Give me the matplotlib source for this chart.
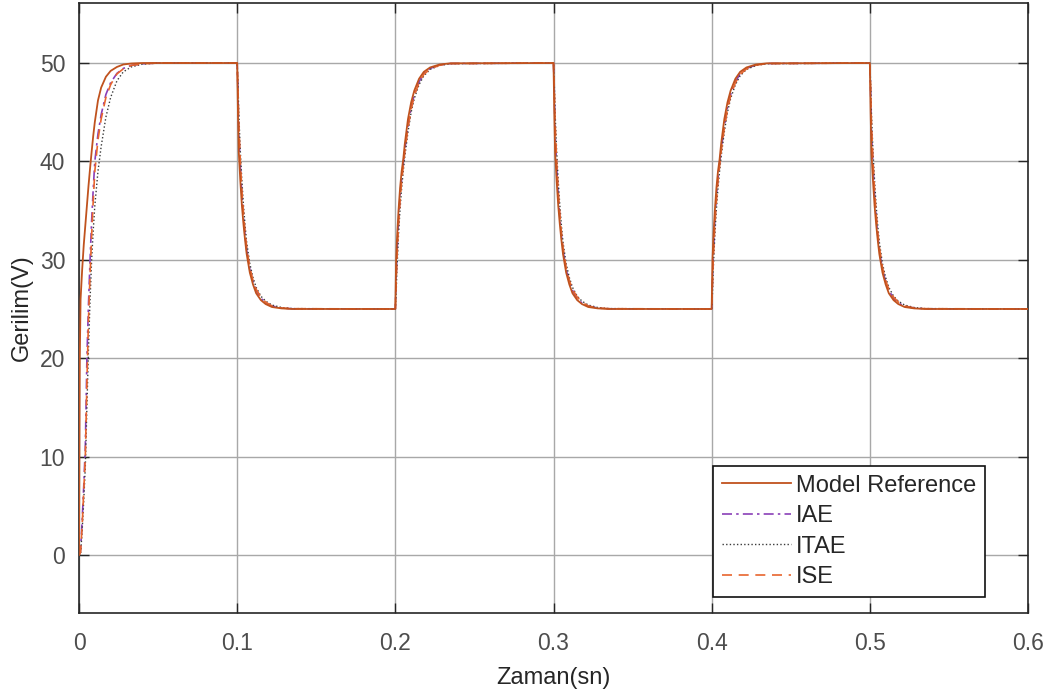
import numpy as np
import matplotlib
matplotlib.use("Agg")
import matplotlib.pyplot as plt

plt.rcParams['font.family'] = ['Liberation Sans', 'DejaVu Sans']

# Square-wave reference between 25 V and 50 V, period 0.2 s, over 0.6 s
period_half = 0.1
t_end = 0.6

# --- first start-up (0 V -> 50 V), time relative to t = 0 ---
start_t = [0, 0.0005, 0.001, 0.002, 0.003, 0.004, 0.005, 0.006, 0.007, 0.008,
           0.009, 0.010, 0.012, 0.014, 0.017, 0.020, 0.024, 0.028, 0.033,
           0.040, 0.050, 0.1]
start_ref = [0, 20, 26, 29, 31.5, 33.5, 35.5, 37.5, 39.3, 41, 42.6, 44, 46.2,
             47.5, 48.6, 49.2, 49.6, 49.85, 49.95, 50, 50, 50]
start_iae = [0, 0.2, 0.5, 3.5, 7, 11, 20, 25.5, 30, 34, 37.2, 40, 42.8, 44.75,
             46.8, 48.0, 48.95, 49.45, 49.75, 49.92, 50, 50]
start_itae = [0, 0, 0, 2.5, 5.5, 9, 15, 21, 26, 30, 33, 35.5, 39, 41.5, 44.5,
              46.5, 48.2, 49.1, 49.6, 49.88, 50, 50]
start_ise = [0, 0.1, 0.3, 3, 6.5, 10, 17.5, 24, 28.5, 32.5, 36, 39, 42.2, 44.3,
             46.5, 47.8, 48.9, 49.4, 49.75, 49.92, 50, 50]

# --- falling edge (50 V -> 25 V), time relative to the edge ---
fall_t = [0, 0.0005, 0.001, 0.002, 0.003, 0.004, 0.005, 0.006, 0.008, 0.010,
          0.012, 0.015, 0.018, 0.022, 0.028, 0.035, 0.1]
fall_ref = [50, 45, 41, 38.0, 35.5, 33.6, 32.0, 30.6, 28.7, 27.5, 26.6, 25.9,
            25.5, 25.2, 25.06, 25.0, 25]
fall_iae = [50, 47, 43, 39.5, 36.5, 34.3, 32.5, 31, 29, 27.8, 26.9, 26.1,
            25.6, 25.3, 25.1, 25.02, 25]
fall_itae = [50, 48, 45, 41, 38, 35.5, 33.5, 31.8, 29.6, 28.2, 27.2, 26.3,
             25.8, 25.4, 25.15, 25.04, 25]
fall_ise = [50, 47.5, 44, 40, 37, 34.7, 32.8, 31.3, 29.2, 27.9, 27.0, 26.2,
            25.7, 25.3, 25.1, 25.03, 25]

# --- rising edge (25 V -> 50 V), time relative to the edge ---
rise_t = [0, 0.0005, 0.001, 0.002, 0.003, 0.004, 0.005, 0.006, 0.008, 0.010,
          0.012, 0.015, 0.018, 0.022, 0.028, 0.035, 0.1]
rise_ref = [25, 30, 32, 35, 37.3, 39, 40.2, 41.8, 44.3, 46.0, 47.2, 48.4,
            49.1, 49.55, 49.85, 49.97, 50]
rise_iae = [25, 28, 30.5, 34, 36.5, 38.3, 39.8, 41.2, 43.6, 45.5, 46.8, 48.1,
            48.9, 49.45, 49.8, 49.95, 50]
rise_itae = [25, 26.5, 29, 32.5, 35.2, 37.3, 39, 40.5, 43, 45, 46.4, 47.8,
             48.7, 49.35, 49.75, 49.93, 50]
rise_ise = [25, 27.5, 30, 33.5, 36, 38, 39.5, 41, 43.4, 45.3, 46.7, 48.0,
            48.85, 49.4, 49.78, 49.94, 50]

x_ticks = [0, 0.1, 0.2, 0.3, 0.4, 0.5, 0.6]
x_ticklabels = ["0", "0.1", "0.2", "0.3", "0.4", "0.5", "0.6"]
y_ticks = [0, 10, 20, 30, 40, 50]

labels = ["Model Reference", "IAE", "ITAE", "ISE"]


def assemble(start_v, fall_v, rise_v):
    """Chain the start-up, falling and rising pieces along the time axis."""
    pieces = [(start_t, start_v)]
    edge = period_half
    falling = True
    while edge < t_end - 1e-9:
        pieces.append((fall_t, fall_v) if falling else (rise_t, rise_v))
        falling = not falling
        edge += period_half
    ts, vs = [], []
    for k, (rt, rv) in enumerate(pieces):
        offset = k * period_half
        rt = np.asarray(rt) + offset
        rv = np.asarray(rv, dtype=float)
        if k > 0:
            rt, rv = rt[1:], rv[1:]
            # the edge itself: jump from the previous final value
            rt = np.concatenate([[offset], rt])
            rv = np.concatenate([[vs[-1][-1]], rv])
        ts.append(rt)
        vs.append(rv)
    return np.concatenate(ts), np.concatenate(vs)


series = [
    (start_ref, fall_ref, rise_ref),
    (start_iae, fall_iae, rise_iae),
    (start_itae, fall_itae, rise_itae),
    (start_ise, fall_ise, rise_ise),
]
styles = [
    dict(color="#C0521E", linestyle="-", linewidth=1.3),
    dict(color="#8A3FB8", linestyle=(0, (6, 2.5, 1.5, 2.5)), linewidth=1.2),
    dict(color="#3A3A3A", linestyle=(0, (1, 1.6)), linewidth=1.0),
    dict(color="#E8652E", linestyle=(0, (6, 4)), linewidth=1.2),
]

fig = plt.figure(figsize=(10.58, 6.97), dpi=100)
ax = fig.add_axes([79 / 1058, 84 / 697, 949 / 1058, 610 / 697])

handles = []
for (sv, fv, rv), st, lab in zip(series, styles, labels):
    t, v = assemble(sv, fv, rv)
    h, = ax.plot(t, v, label=lab, zorder=3, **st)
    handles.append(h)

# draw the reference on top so it stays visible
handles[0].set_zorder(4)

ax.set_xlim(0, 0.6)
ax.set_ylim(-5.9, 56.1)
ax.set_xticks(x_ticks)
ax.set_xticklabels(x_ticklabels)
ax.set_yticks(y_ticks)

ax.grid(True, color="#A8A8A8", linewidth=1.0)
ax.set_axisbelow(True)
ax.tick_params(direction="in", length=7, width=1, colors="#262626",
               labelsize=16.5, top=True, right=True,
               labelcolor="#4D4D4D")
ax.tick_params(axis="x", pad=14)
ax.tick_params(axis="y", pad=10)
for sp in ax.spines.values():
    sp.set_color("#262626")
    sp.set_linewidth(1.2)

ax.set_xlabel("Zaman(sn)", fontsize=17, color="#262626", labelpad=8)
ax.set_ylabel("Gerilim(V)", fontsize=17, color="#262626", labelpad=5)

leg = ax.legend(handles=handles, loc="lower right",
                bbox_to_anchor=(0.955, 0.026), borderaxespad=0,
                fontsize=17, handlelength=2.95, handletextpad=0.2,
                labelspacing=0.36, borderpad=0.38, fancybox=False,
                framealpha=1.0, edgecolor="#111111")
leg.get_frame().set_linewidth(1.2)
for txt in leg.get_texts():
    txt.set_color("#262626")

fig.savefig("out.png", dpi=100, facecolor="white")
